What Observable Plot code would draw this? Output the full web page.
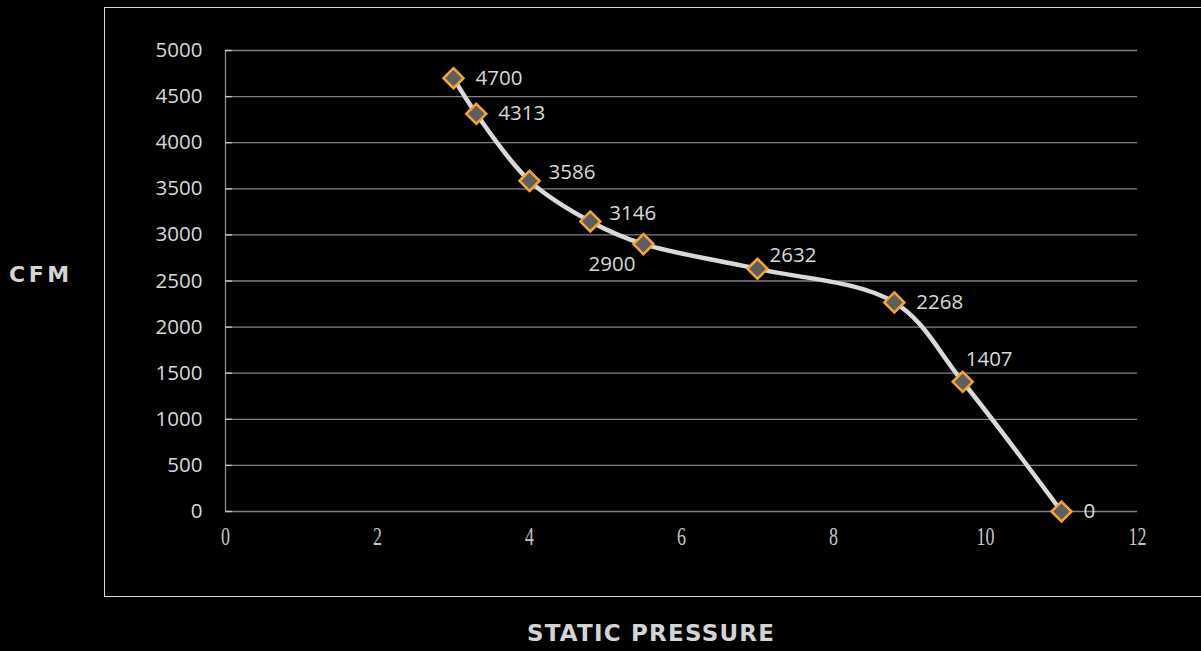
<!DOCTYPE html>
<html>
<head>
<meta charset="utf-8">
<script src="https://cdn.jsdelivr.net/npm/d3@7"></script>
<script src="https://cdn.jsdelivr.net/npm/@observablehq/plot@0.6"></script>
<style>
  html, body { margin: 0; padding: 0; background: #000; }
  #wrap { position: relative; width: 1201px; height: 651px; overflow: hidden; background: #000; }
  #frame { position: absolute; left: 104px; top: 7px; width: 1200px; height: 590px; border: 1.5px solid #d9d9d9; box-sizing: border-box; border-right: none; }
  .axlabel { position: absolute; color: #d4d4d4; font-family: "DejaVu Sans", sans-serif; font-weight: bold; white-space: nowrap; }
  #ylab { left: 9px; top: 262px; font-size: 22px; letter-spacing: 3.5px; }
  #xlab { left: 527px; top: 620px; font-size: 23px; letter-spacing: 1.2px; }
  #chart { position: absolute; left: 0; top: 0; }
</style>
</head>
<body>
<div id="wrap">
  <div id="frame"></div>
  <div id="chart"></div>
  <div class="axlabel" id="ylab">CFM</div>
  <div class="axlabel" id="xlab">STATIC PRESSURE</div>
</div>
<script>
const pressure = [3, 3.3, 4, 4.8, 5.5, 7, 8.8, 9.7, 11];
const cfm = [4700, 4313, 3586, 3146, 2900, 2632, 2268, 1407, 0];
const xTicks = [0, 2, 4, 6, 8, 10, 12];
const yTicks = [0, 500, 1000, 1500, 2000, 2500, 3000, 3500, 4000, 4500, 5000];

const data = pressure.map((p, i) => ({p, cfm: cfm[i], i}));

// label placement groups (styling only)
const right = data.filter(d => [0, 1, 6, 8].includes(d.i));
const upRight = data.filter(d => [2, 3].includes(d.i));
const upRight2 = data.filter(d => d.i === 5);
const above = data.filter(d => d.i === 7);
const belowLeft = data.filter(d => d.i === 4);

const labelFont = {fill: "#d9d9d9", fontSize: 20.5, fontFamily: "Open Sans, sans-serif", text: d => String(d.cfm), x: "p", y: "cfm"};

const chart = Plot.plot({
  width: 1201,
  height: 651,
  marginLeft: 225,
  marginRight: 64,
  marginTop: 50,
  marginBottom: 140,
  style: {background: "transparent", color: "#d9d9d9", overflow: "visible"},
  x: {type: "linear", domain: [0, 12], ticks: xTicks},
  y: {type: "linear", domain: [0, 5000], ticks: yTicks},
  marks: [
    Plot.gridY(yTicks, {stroke: "#828282", strokeOpacity: 1, strokeWidth: 1.3}),
    Plot.ruleX([0], {y1: 0, y2: 5000, stroke: "#8a8a8a", strokeWidth: 1.3}),
    Plot.ruleY(yTicks, {y: d => d, x1: 0, x2: 0.09, stroke: "#c4c4c4", strokeWidth: 1.3}),
    Plot.axisY(yTicks, {tickSize: 0, tickPadding: 23, fontSize: 20.5, fontFamily: "Open Sans, sans-serif", fill: "#d9d9d9", label: null, tickFormat: d => String(d)}),
    Plot.axisX(xTicks, {tickSize: 0, tickPadding: 16, fontSize: 25, fontFamily: "Liberation Serif, serif", fill: "#c4c4c4", label: null, tickFormat: d => String(d)}),
    Plot.line(data, {x: "p", y: "cfm", curve: "catmull-rom", stroke: "#d9d9d9", strokeWidth: 4.5}),
    Plot.dot(data, {x: "p", y: "cfm", symbol: "diamond2", r: 9, fill: "#5e5e5e", stroke: "#f3a630", strokeWidth: 2.5}),
    Plot.text(right, {...labelFont, textAnchor: "start", dx: 22, dy: 0}),
    Plot.text(upRight, {...labelFont, textAnchor: "start", dx: 19, dy: -8}),
    Plot.text(upRight2, {...labelFont, textAnchor: "start", dx: 12, dy: -13}),
    Plot.text(above, {...labelFont, textAnchor: "start", dx: 3, dy: -22}),
    Plot.text(belowLeft, {...labelFont, textAnchor: "end", dx: -8, dy: 20})
  ]
});

document.getElementById("chart").appendChild(chart);

// condense serif x tick labels horizontally
chart.querySelectorAll('[aria-label="x-axis tick label"] text').forEach(t => {
  const tr = t.getAttribute("transform") || "";
  t.setAttribute("transform", tr + " scale(0.72,1)");
});
</script>
</body>
</html>
